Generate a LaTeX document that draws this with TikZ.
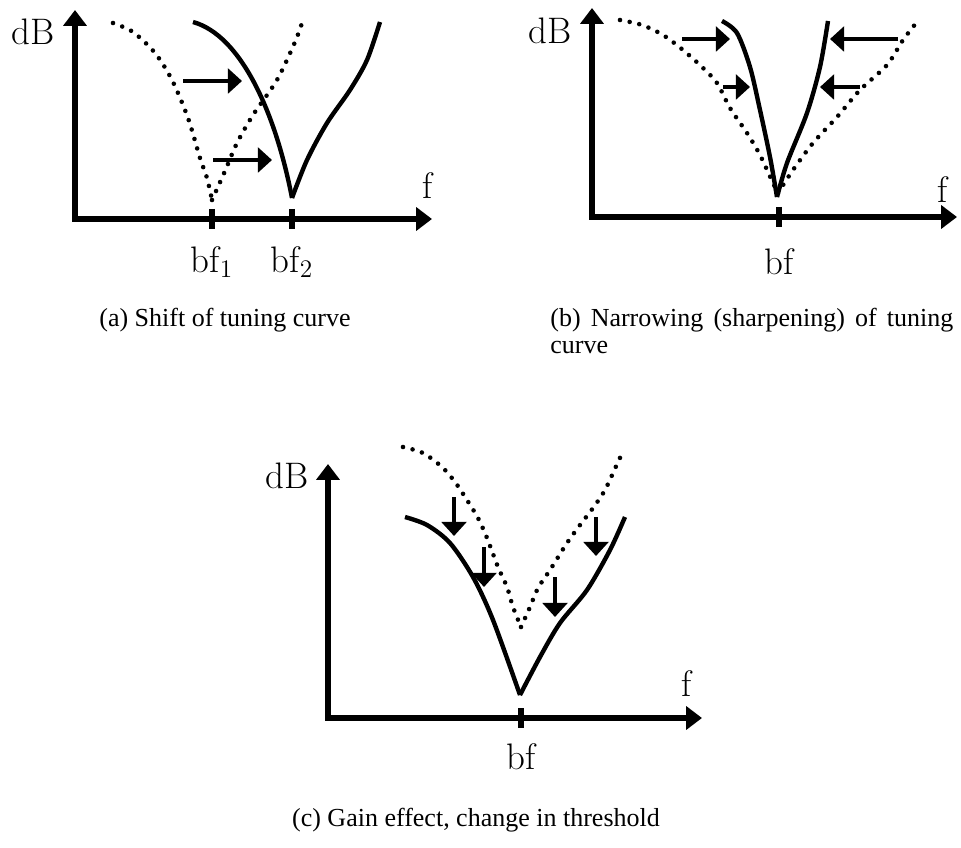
\documentclass[tikz,border=0pt]{standalone}
\usepackage{fontspec}
\usetikzlibrary{arrows.meta}
\newfontfamily\capfont{Liberation Serif}

\tikzset{
  axis/.style={line width=3pt,line join=miter,{Triangle[length=9pt,width=13pt]}-{Triangle[length=9pt,width=13pt]}},
  tuning/.style={line width=2.5pt},
  oldtuning/.style={line width=2.6pt,line cap=round,dash pattern=on 0pt off 5.6pt},
  shiftarrow/.style={line width=2.8pt,-{Triangle[length=8pt,width=14pt]}},
  tick/.style={line width=3pt},
  axislabel/.style={font=\fontsize{21}{24}\selectfont},
  caption/.style={font=\fontsize{14.8}{17}\selectfont\capfont}
}

\begin{document}
\begin{tikzpicture}[x=0.02cm,y=-0.02cm]
\useasboundingbox (0,0) rectangle (961,848);

% (a) shift of tuning curve
\draw[axis] (75,10) -- (75,219) -- (432,219);
\draw[tick] (212,209) -- (212,229);
\draw[tick] (292,209) -- (292,229);
\draw[oldtuning] plot[smooth] coordinates {(113,23) (133,32) (155,53) (172,80) (188,118) (200,158) (207,178) (212,200)};
\draw[oldtuning] plot[smooth] coordinates {(212,200) (225,171) (237,143) (253,115) (277,80) (295,42) (302,23)};
\draw[tuning] (193,22) .. controls (240,35) and (275,110) .. (292,198);
\draw[tuning] plot[smooth] coordinates {(292,198) (307,160) (327,123) (350,90) (367,60) (380,22)};
\draw[shiftarrow] (183,81) -- (242,81);
\draw[shiftarrow] (213,160) -- (272,160);
\node[axislabel] (dBa) at (33,32) {dB};
\node[axislabel] (fa) at (428,186) {f};
\node[axislabel] (bfone) at (212,262) {bf$_1$};
\node[axislabel] (bftwo) at (292,262) {bf$_2$};
\node[caption] (capa) at (225,320) {(a) Shift of tuning curve};

% (b) narrowing of tuning curve
\draw[axis] (592,8) -- (592,217) -- (957,217);
\draw[tick] (779,207) -- (779,227);
\draw[oldtuning] plot[smooth] coordinates {(620,20) (642,25) (663,35) (683,50) (702,67) (717,83) (730,108) (747,133) (760,155) (773,183) (778,193)};
\draw[oldtuning] plot[smooth] coordinates {(778,193) (793,170) (813,143) (837,117) (860,90) (887,65) (903,40) (917,22)};
\draw[tuning] plot[smooth] coordinates {(722,21) (737,33) (750,67) (760,110) (770,157) (777,197)};
\draw[tuning] plot[smooth] coordinates {(777,197) (787,163) (807,113) (820,67) (828,21)};
\draw[shiftarrow] (682,39) -- (730,39);
\draw[shiftarrow] (723,87) -- (750,87);
\draw[shiftarrow] (898,39) -- (830,39);
\draw[shiftarrow] (860,87) -- (820,87);
\node[axislabel] (dBb) at (550,31) {dB};
\node[axislabel] (fb) at (943,190) {f};
\node[axislabel] (bfb) at (779,262) {bf};
\node[caption,anchor=west,inner sep=0pt] (capb) at (550,320) {\makebox[8.06cm][s]{(b) Narrowing (sharpening) of tuning}};
\node[caption,anchor=west,inner sep=0pt] (capbtwo) at (550,347) {curve};

% (c) gain effect
\draw[axis] (328,464) -- (328,718) -- (702,718);
\draw[tick] (521,708) -- (521,728);
\draw[oldtuning] plot[smooth] coordinates {(403,447) (423,453) (442,467) (455,482) (467,500) (478,518) (487,538) (498,567) (507,587) (513,607) (521,627)};
\draw[oldtuning] plot[smooth] coordinates {(521,627) (530,607) (538,588) (550,570) (567,543) (580,525) (593,508) (605,490) (618,462) (623,452)};
\draw[tuning] plot[smooth] coordinates {(405,517) (427,525) (450,543) (473,577) (493,620) (520,695)};
\draw[tuning] plot[smooth] coordinates {(520,695) (540,657) (560,623) (587,590) (610,550) (625,517)};
\draw[shiftarrow] (454,497) -- (454,536);
\draw[shiftarrow] (484,547) -- (484,587);
\draw[shiftarrow] (555,577) -- (555,617);
\draw[shiftarrow] (596,517) -- (596,556);
\node[axislabel] (dBc) at (287,476) {dB};
\node[axislabel] (fc) at (687,684) {f};
\node[axislabel] (bfc) at (521,757) {bf};
\node[caption] (capc) at (476,820) {(c) Gain effect, change in threshold};
\end{tikzpicture}
\end{document}
